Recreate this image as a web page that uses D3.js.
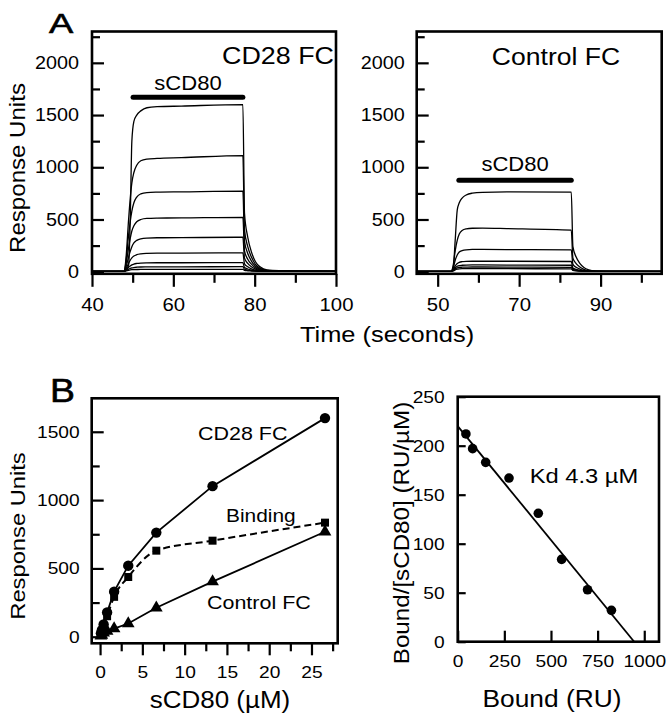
<!DOCTYPE html>
<html><head><meta charset="utf-8">
<script src="https://cdnjs.cloudflare.com/ajax/libs/d3/7.8.5/d3.min.js"></script>
<style>body{margin:0;background:#fff}svg{display:block}text{font-family:"Liberation Sans",Arial,Helvetica,sans-serif;fill:#000}</style>
</head><body><svg id="c" width="670" height="720"></svg>
<script>
// ---------------- DATA ----------------
// Panel A (left): CD28 FC sensorgrams, time (s) vs response units
const timeCD28 = [40, 47.9, 48.4, 49.0, 49.4, 49.8, 50.3, 51.0, 52.0, 53.5, 56, 62, 77.1, 77.5, 78.3, 79.2, 80.2, 81.4, 83, 86, 92, 100];
const tracesCD28 = [
  [4, 4, 20, 60, 500, 1250, 1440, 1500, 1540, 1570, 1580, 1586, 1600, 560, 330, 190, 95, 45, 18, 9, 6, 5],
  [4, 4, 150, 500, 700, 850, 950, 1020, 1062, 1078, 1085, 1092, 1112, 400, 240, 140, 70, 32, 13, 7, 5, 4],
  [4, 4, 110, 350, 480, 580, 660, 715, 745, 758, 762, 765, 772, 290, 175, 102, 52, 24, 10, 6, 5, 4],
  [4, 4, 80, 230, 320, 390, 440, 478, 500, 510, 513, 515, 521, 200, 120, 72, 37, 17, 8, 5, 4, 4],
  [4, 4, 50, 140, 195, 240, 275, 300, 315, 322, 325, 326, 330, 130, 80, 48, 25, 12, 6, 5, 4, 4],
  [4, 4, 30, 80, 110, 132, 150, 163, 171, 175, 177, 178, 180, 75, 47, 28, 15, 8, 5, 4, 4, 4],
  [4, 4, 18, 42, 55, 65, 73, 79, 83, 85, 86, 86, 87, 40, 26, 16, 9, 6, 4, 4, 4, 4],
  [4, 4, 12, 25, 31, 36, 40, 43, 45, 46, 47, 47, 48, 24, 16, 10, 7, 5, 4, 4, 4, 4],
  [4, 4, 8, 14, 17, 19, 20, 21, 22, 22, 22, 22, 23, 12, 9, 7, 5, 4, 4, 4, 4, 4]
];
const injectionCD28 = [50.1, 77.1]; const injectionCD28RU = 1670;
// Panel A (right): Control FC sensorgrams
const timeCtrl = [44.85, 53.3, 53.8, 54.3, 54.8, 55.3, 56, 57, 58.5, 61, 67, 82.8, 83.2, 84, 84.9, 85.9, 87.1, 88.7, 92, 105];
const tracesCtrl = [
  [4, 4, 30, 300, 590, 660, 705, 735, 752, 760, 764, 762, 240, 140, 80, 40, 18, 8, 5, 4],
  [4, 4, 60, 200, 300, 360, 395, 410, 416, 417, 413, 398, 130, 78, 45, 22, 10, 5, 4, 4],
  [4, 4, 35, 110, 160, 188, 202, 210, 213, 213, 212, 210, 70, 42, 25, 13, 7, 4, 4, 4],
  [4, 4, 20, 55, 78, 90, 96, 99, 100, 100, 100, 98, 35, 22, 13, 8, 5, 4, 4, 4],
  [4, 4, 14, 38, 52, 59, 62, 64, 65, 65, 64, 62, 24, 15, 9, 6, 4, 4, 4, 4],
  [4, 4, 10, 27, 36, 41, 43, 44, 45, 45, 44, 42, 17, 11, 7, 5, 4, 4, 4, 4],
  [4, 4, 7, 18, 24, 27, 29, 30, 30, 30, 29, 28, 12, 8, 6, 4, 4, 4, 4, 4]
];
const injectionCtrl = [55.2, 82.8]; const injectionCtrlRU = 875;
const ticksA_y = [0, 500, 1000, 1500, 2000];
const ticksA_yMinor = [250, 750, 1250, 1750, 2250];
const ticksA1_x = [40, 60, 80, 100];
const ticksA1_xMinor = [50, 70, 90];
const ticksA2_x = [50, 70, 90];
const ticksA2_xMinor = [60, 80, 100];

// Panel B (left): dose response
const concB = [0.1, 0.21, 0.42, 0.83, 1.66, 3.33, 6.65, 13.3, 26.6];
const cd28RU = [25, 48, 90, 178, 330, 520, 762, 1102, 1600];
const bindingRU = [20, 44, 80, 150, 292, 437, 630, 703, 835];
const controlRU = [6, 12, 28, 42, 60, 97, 212, 403, 768];
const ticksB1_y = [0, 500, 1000, 1500];
const ticksB1_yMinor = [250, 750, 1250];
const ticksB1_x = [0, 5, 10, 15, 20, 25];
const ticksB1_xMinor = [2.5, 7.5, 12.5, 17.5, 22.5, 27.5];

// Panel B (right): Scatchard
const boundRU = [44, 80, 150, 275, 432, 557, 696, 824];
const boundPerConc = [212, 197, 183, 167, 131, 84, 53, 32];
const fitBound = [0, 946];
const fitRatio = [220, 0];
const ticksB2_y = [0, 50, 100, 150, 200, 250];
const ticksB2_x = [0, 250, 500, 750, 1000];

// ---------------- DRAW ----------------
const svg = d3.select('#c');
const SX = 1.13;
function txt(x, y, s, size, anchor, rot, sx) {
  return svg.append('text')
    .attr('transform', `translate(${x},${y}) rotate(${rot||0}) scale(${sx||SX},1)`)
    .attr('text-anchor', anchor || 'start').attr('font-size', size).text(s);
}
function frame(xs, ys) {
  const [x0, x1] = xs.range(), [y0, y1] = ys.range();
  svg.append('rect').attr('x', x0).attr('y', y1).attr('width', x1 - x0).attr('height', y0 - y1)
    .attr('fill', 'none').attr('stroke', '#000').attr('stroke-width', 2.6);
}
function styleAxis(g, fs, left) {
  g.select('.domain').remove();
  g.selectAll('line').attr('stroke', '#000').attr('stroke-width', 2.2);
  g.selectAll('text').attr('font-size', fs).attr('font-family', '"Liberation Sans",Arial,sans-serif')
    .attr('transform', `scale(${SX},1)`);
  if (left) g.selectAll('text').attr('x', function () { return +d3.select(this).attr('x') / SX; });
}
function yAxis(xs, ys, major, minor, lenMaj, lenMin, pad, fs) {
  const g = svg.append('g').attr('transform', `translate(${xs.range()[0]},0)`)
    .call(d3.axisLeft(ys).tickValues(major).tickSize(-lenMaj).tickPadding(pad).tickFormat(d3.format('d')));
  styleAxis(g, fs, true);
  if (minor) {
    const m = svg.append('g').attr('transform', `translate(${xs.range()[0]},0)`)
      .call(d3.axisLeft(ys).tickValues(minor).tickSize(-lenMin).tickFormat(''));
    styleAxis(m, fs, true);
  }
}
function xAxis(xs, ys, major, minor, lenMaj, lenMin, pad, fs, inward) {
  const s = inward ? -1 : 1;
  const g = svg.append('g').attr('transform', `translate(0,${ys.range()[0]})`)
    .call(d3.axisBottom(xs).tickValues(major).tickSize(s * lenMaj).tickPadding(pad).tickFormat(d3.format('d')));
  styleAxis(g, fs, false);
  if (inward) g.selectAll('text').attr('y', pad);
  if (minor) {
    const m = svg.append('g').attr('transform', `translate(0,${ys.range()[0]})`)
      .call(d3.axisBottom(xs).tickValues(minor).tickSize(s * lenMin).tickFormat(''));
    styleAxis(m, fs, false);
  }
}

// Panel A scales (domain = frame extent)
const xA1 = d3.scaleLinear().domain([40, 100]).range([92, 336]);
const yA = d3.scaleLinear().domain([-20, 2300]).range([273.8, 31.5]);
const xA2 = d3.scaleLinear().domain([44.85, 105]).range([416.7, 661.7]);

function sensorgram(xs, times, traces) {
  const line = d3.line().x((d, i) => xs(times[i])).y(d => yA(d)).curve(d3.curveMonotoneX);
  svg.append('g').selectAll('path').data(traces).join('path')
    .attr('d', line).attr('fill', 'none').attr('stroke', '#000').attr('stroke-width', 1.3);
}
sensorgram(xA1, timeCD28, tracesCD28);
sensorgram(xA2, timeCtrl, tracesCtrl);
frame(xA1, yA); frame(xA2, yA);
yAxis(xA1, yA, ticksA_y, ticksA_yMinor, 12, 8, 13, 17.5);
yAxis(xA2, yA, ticksA_y, ticksA_yMinor, 12, 8, 12, 17.5);
xAxis(xA1, yA, ticksA1_x, ticksA1_xMinor, 13, 9, 11, 18);
xAxis(xA2, yA, ticksA2_x, ticksA2_xMinor, 13, 9, 11, 18);

// injection bars
svg.append('line').attr('x1', xA1(injectionCD28[0])).attr('x2', xA1(injectionCD28[1]))
  .attr('y1', yA(injectionCD28RU)).attr('y2', yA(injectionCD28RU))
  .attr('stroke', '#000').attr('stroke-width', 5).attr('stroke-linecap', 'round');
svg.append('line').attr('x1', xA2(injectionCtrl[0])).attr('x2', xA2(injectionCtrl[1]))
  .attr('y1', yA(injectionCtrlRU)).attr('y2', yA(injectionCtrlRU))
  .attr('stroke', '#000').attr('stroke-width', 5).attr('stroke-linecap', 'round');
txt((xA1(injectionCD28[0]) + xA1(injectionCD28[1])) / 2, yA(injectionCD28RU) - 7, 'sCD80', 19.5, 'middle');
txt((xA2(injectionCtrl[0]) + xA2(injectionCtrl[1])) / 2, yA(injectionCtrlRU) - 9, 'sCD80', 19.5, 'middle');
txt(334, 64, 'CD28 FC', 23.8, 'end');
txt(556, 65, 'Control FC', 23.5, 'middle');
txt(49, 33.3, 'A', 28, 'start', 0, 1.3).attr('stroke', '#000').attr('stroke-width', 0.6);
txt(25, 168, 'Response Units', 21.3, 'middle', -90);
txt(387, 342, 'Time (seconds)', 22.5, 'middle');

// Panel B left
const xB1 = d3.scaleLinear().domain([-0.99, 28.1]).range([91.7, 337.7]);
const yB1 = d3.scaleLinear().domain([-48, 1745]).range([643.3, 398.3]);
const lineB = (ys) => d3.line().x((d, i) => xB1(concB[i])).y(d => ys(d));
svg.append('path').attr('d', lineB(yB1)(cd28RU)).attr('fill', 'none').attr('stroke', '#000').attr('stroke-width', 1.8);
svg.append('path').attr('d', lineB(yB1)(controlRU)).attr('fill', 'none').attr('stroke', '#000').attr('stroke-width', 1.8);
svg.append('path').attr('d', lineB(yB1).curve(d3.curveMonotoneX)(bindingRU)).attr('fill', 'none')
  .attr('stroke', '#000').attr('stroke-width', 2).attr('stroke-dasharray', '7,4');
function markers(vals, type, size) {
  svg.append('g').selectAll('path').data(vals).join('path')
    .attr('transform', (d, i) => `translate(${xB1(concB[i])},${yB1(d)})`)
    .attr('d', d3.symbol().type(type).size(size)).attr('fill', '#000');
}
markers(cd28RU, d3.symbolCircle, 85);
markers(bindingRU, d3.symbolSquare, 64);
markers(controlRU, d3.symbolTriangle, 70);
frame(xB1, yB1);
yAxis(xB1, yB1, ticksB1_y, ticksB1_yMinor, 12, 8, 12, 17);
xAxis(xB1, yB1, ticksB1_x, ticksB1_xMinor, 12, 8, 11, 17);
txt(198, 440, 'CD28 FC', 19, 'start');
txt(226, 522, 'Binding', 18.5, 'start');
txt(207, 609, 'Control FC', 19, 'start');
txt(50, 401.7, 'B', 32.5, 'start', 0, 1.15).attr('stroke', '#000').attr('stroke-width', 0.6);
txt(25, 536, 'Response Units', 21, 'middle', -90);
txt(220, 708, 'sCD80 (\u00b5M)', 23, 'middle');

// Panel B right (Scatchard)
const xB2 = d3.scaleLinear().domain([0, 1079]).range([457.7, 659]);
const yB2 = d3.scaleLinear().domain([0, 250]).range([641.7, 396.7]);
svg.append('path').attr('d', d3.line().x((d, i) => xB2(fitBound[i])).y(d => yB2(d))(fitRatio))
  .attr('fill', 'none').attr('stroke', '#000').attr('stroke-width', 1.8);
svg.append('g').selectAll('circle').data(boundPerConc).join('circle')
  .attr('cx', (d, i) => xB2(boundRU[i])).attr('cy', d => yB2(d)).attr('r', 4.8).attr('fill', '#000');
frame(xB2, yB2);
yAxis(xB2, yB2, ticksB2_y, null, 8, 0, 13, 17);
xAxis(xB2, yB2, ticksB2_x, null, 11, 0, 13, 17, true);
txt(584, 483, 'Kd 4.3 \u00b5M', 21, 'middle');
txt(409, 533, 'Bound/[sCD80] (RU/\u00b5M)', 21.4, 'middle', -90);
txt(552, 707, 'Bound (RU)', 23.3, 'middle');
</script></body></html>
